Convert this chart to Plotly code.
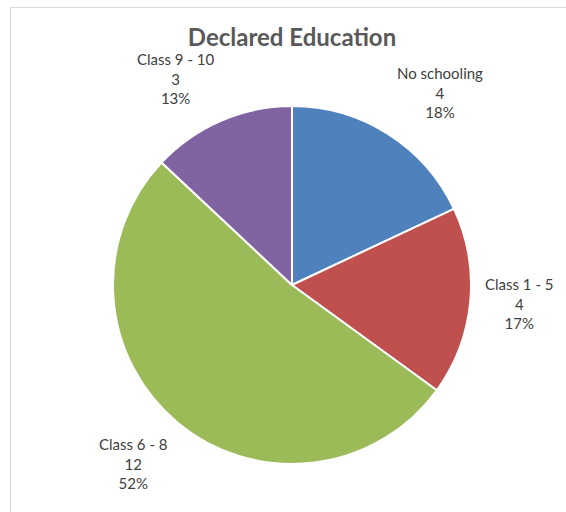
import math
import plotly.graph_objects as go

categories = ["No schooling", "Class 1 - 5", "Class 6 - 8", "Class 9 - 10"]
counts = [4, 4, 12, 3]
percents = [18, 17, 52, 13]
colors = ["#4F81BD", "#C0504D", "#9BBB59", "#8064A2"]

W, H = 566, 512
cx, cy, R = 292, 285, 179
label_gap = 13

fig = go.Figure(go.Pie(
    labels=categories,
    values=percents,
    customdata=counts,
    textinfo="none",
    marker=dict(colors=colors, line=dict(color="white", width=2)),
    direction="clockwise",
    rotation=0,
    sort=False,
    showlegend=False,
    hovertemplate="%{label}: %{customdata} (%{value}%)<extra></extra>",
    domain=dict(x=[(cx - R) / W, (cx + R) / W], y=[(H - cy - R) / H, (H - cy + R) / H]),
))

# data labels placed outside each slice, along its mid-angle
total = sum(percents)
annotations = []
cum = 0
for cat, n, p in zip(categories, counts, percents):
    mid = (cum + p / 2) / total * 2 * math.pi
    cum += p
    s, c = math.sin(mid), math.cos(mid)
    r = R + label_gap
    px = cx + r * s
    py = cy - r * c
    xa = "left" if s > 0.2 else ("right" if s < -0.2 else "center")
    ya = "bottom" if c > 0.3 else ("top" if c < -0.3 else "middle")
    annotations.append(dict(
        x=px / W, y=1 - py / H, xref="paper", yref="paper",
        xanchor=xa, yanchor=ya, align="center", showarrow=False,
        text=f"{cat}<br>{n}<br>{p}%",
        font=dict(family="Lato", size=15, color="#404040"),
    ))

fig.update_layout(
    width=W, height=H,
    margin=dict(l=0, r=0, t=0, b=0),
    paper_bgcolor="white",
    title=dict(text="<b>Declared Education</b>", x=292 / W, xanchor="center", y=1 - 38 / H, yanchor="middle",
               font=dict(family="Lato", size=24, color="#595959")),
    annotations=annotations,
    shapes=[dict(type="rect", xref="paper", yref="paper", x0=10.5 / W, x1=1.02, y0=-0.02, y1=1 - 7.5 / H,
                 line=dict(color="#D9D9D9", width=1), fillcolor="rgba(0,0,0,0)")],
)

fig.write_html("out.html", config={"displayModeBar": False},
               post_script="document.body.style.margin='0';")
